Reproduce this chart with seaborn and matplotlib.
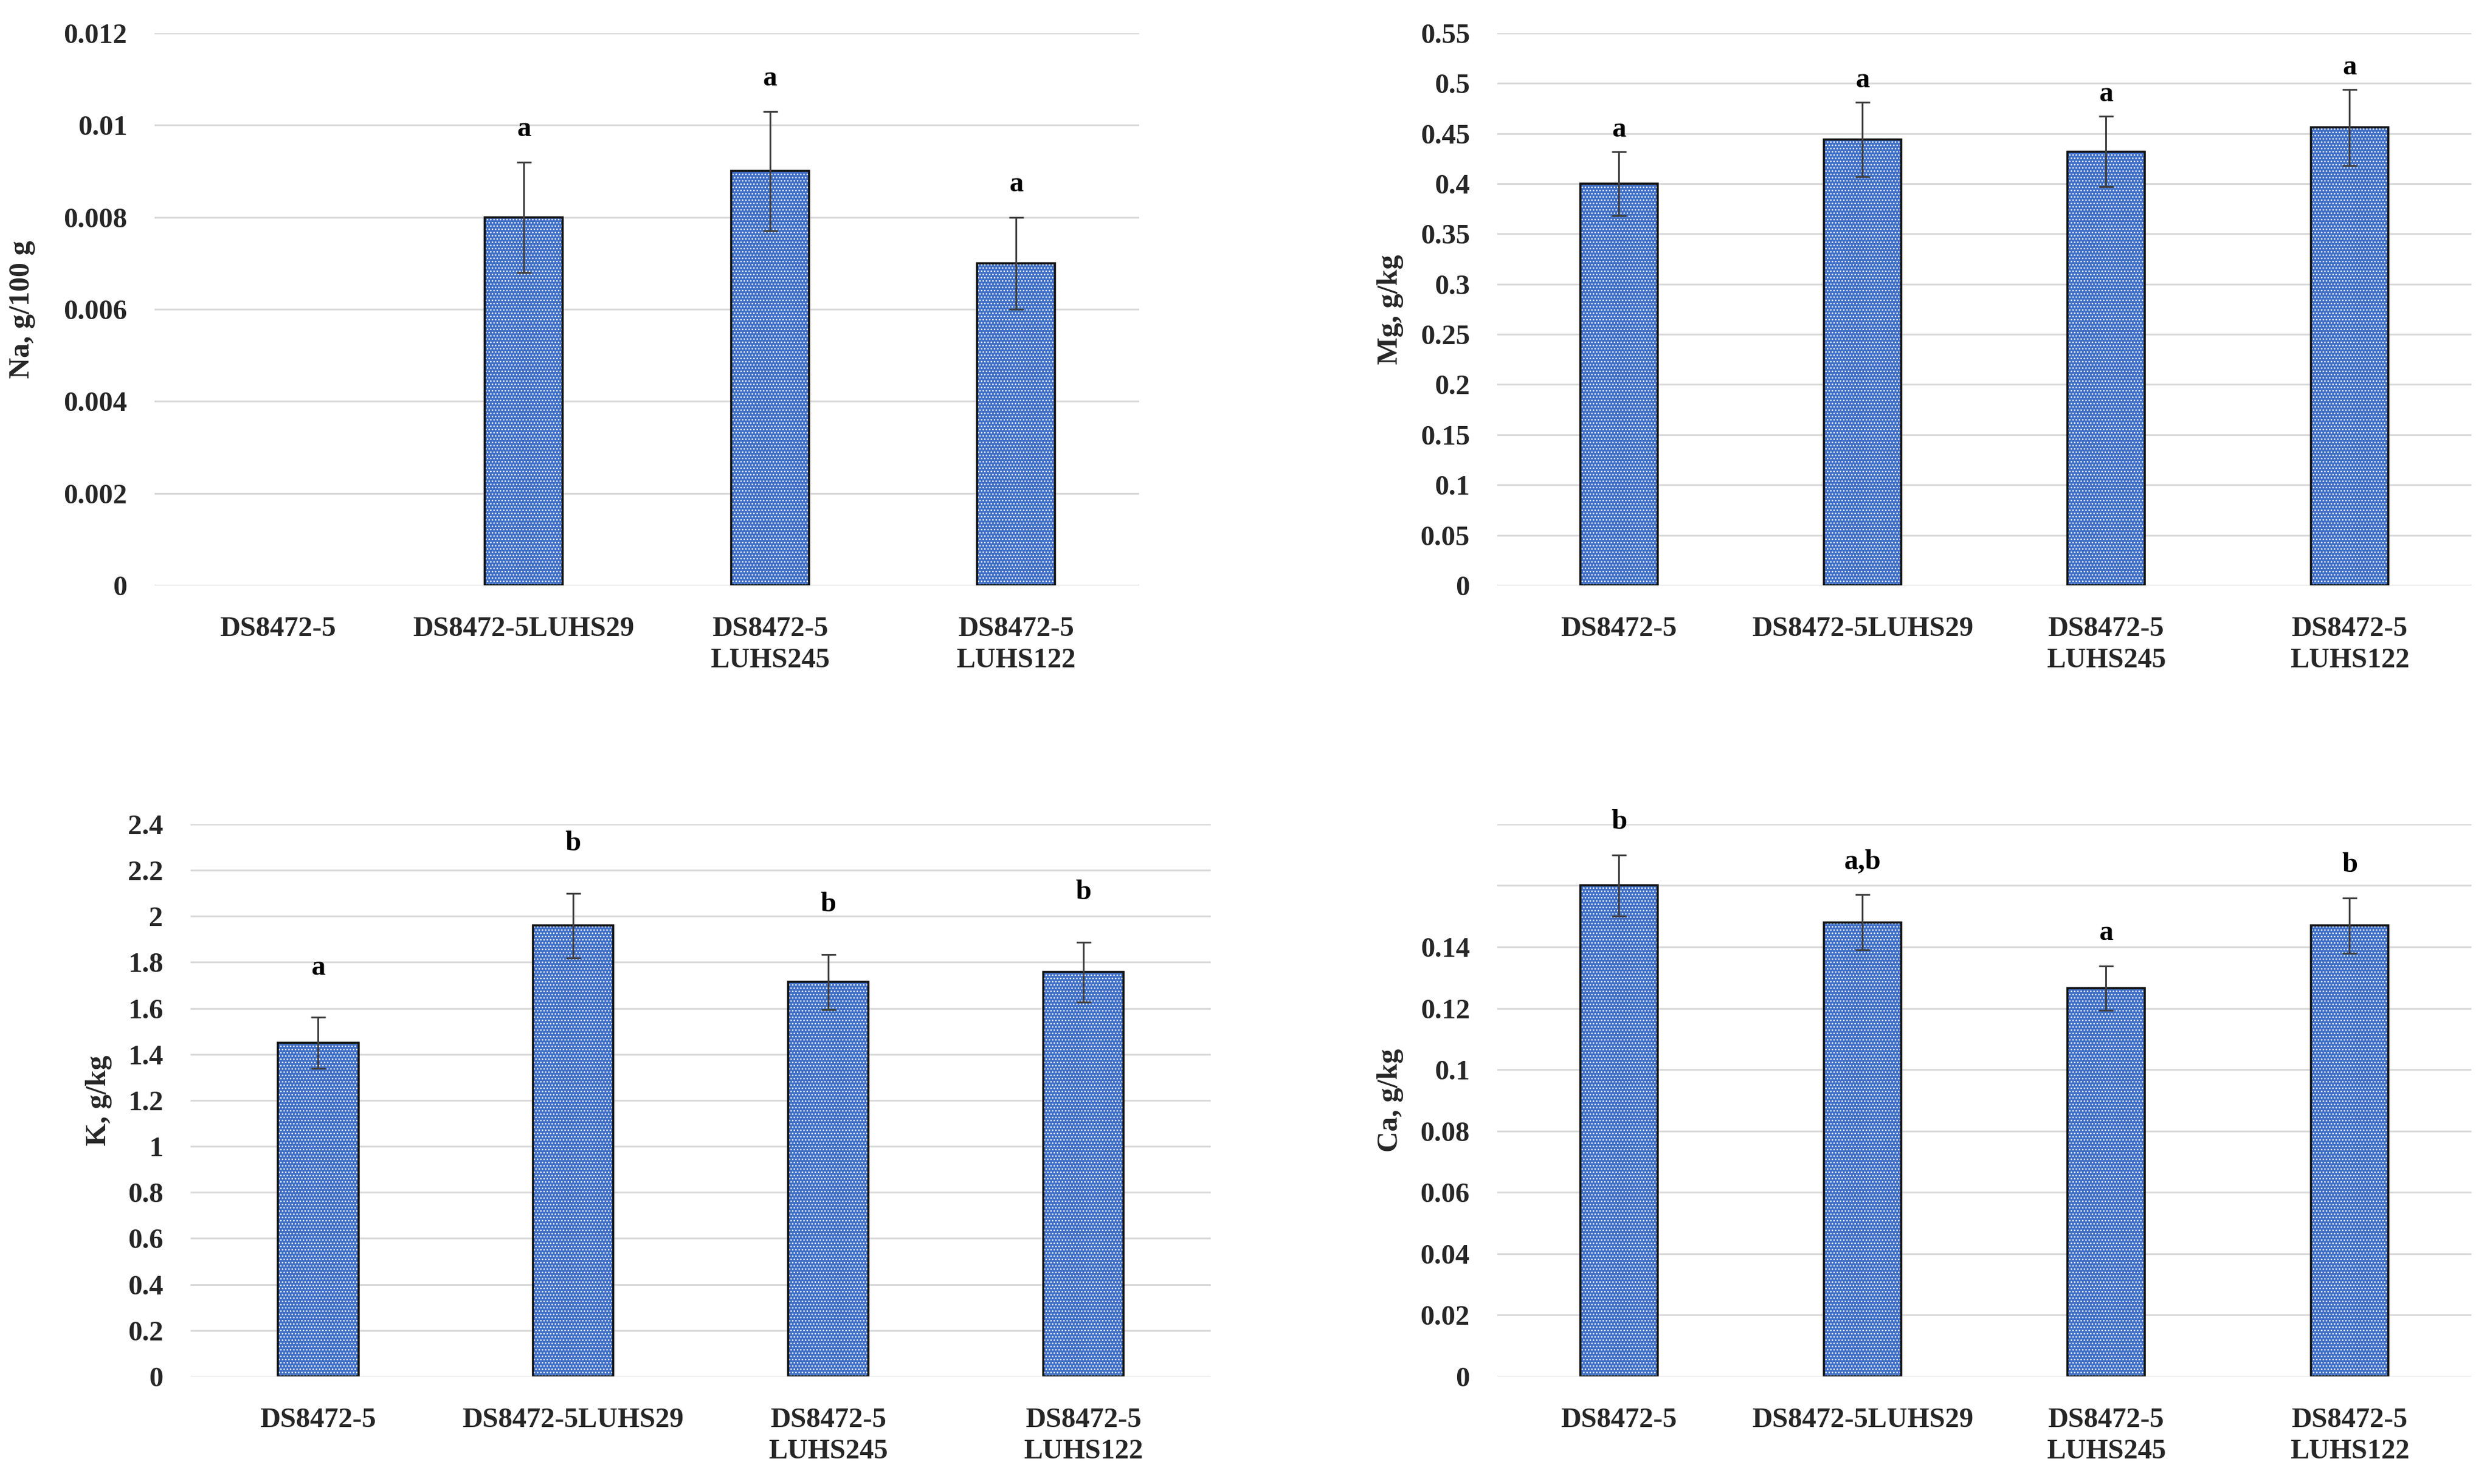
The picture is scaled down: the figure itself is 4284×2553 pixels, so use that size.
import matplotlib
matplotlib.use("Agg")
import matplotlib.pyplot as plt
import seaborn as sns
import numpy as np
import pandas as pd

# ---------------- data ----------------
categories = ["DS8472-5", "DS8472-5LUHS29", "DS8472-5\nLUHS245", "DS8472-5\nLUHS122"]

na_mean = [0.0, 0.008, 0.009, 0.007]
na_err = [0.0, 0.0012, 0.0013, 0.001]
na_letters = ["", "a", "a", "a"]

mg_mean = [0.400, 0.444, 0.432, 0.456]
mg_err = [0.032, 0.037, 0.035, 0.038]
mg_letters = ["a", "a", "a", "a"]

k_mean = [1.45, 1.96, 1.715, 1.757]
k_err = [0.11, 0.14, 0.12, 0.13]
k_letters = ["a", "b", "b", "b"]

ca_mean = [0.160, 0.148, 0.1265, 0.147]
ca_err = [0.010, 0.009, 0.0072, 0.009]
ca_letters = ["b", "a,b", "a", "b"]

na_ticks = [0, 0.002, 0.004, 0.006, 0.008, 0.01, 0.012]
mg_ticks = [0, 0.05, 0.1, 0.15, 0.2, 0.25, 0.3, 0.35, 0.4, 0.45, 0.5, 0.55]
k_ticks = [0, 0.2, 0.4, 0.6, 0.8, 1, 1.2, 1.4, 1.6, 1.8, 2, 2.2, 2.4]
ca_ticks = [0, 0.02, 0.04, 0.06, 0.08, 0.1, 0.12, 0.14, 0.16, 0.18]
ca_tick_labels = ["0", "0.02", "0.04", "0.06", "0.08", "0.1", "0.12", "0.14", "", ""]

# ---------------- style ----------------
sns.set_theme(style="white")
plt.rcParams["font.family"] = ["Liberation Serif", "DejaVu Serif"]
plt.rcParams["font.weight"] = "bold"
plt.rcParams["hatch.linewidth"] = 1.1

BAR_BLUE = "#3f6fc6"
GRID = "#d9d9d9"
ERR = "#404040"
FS = 35

fig = plt.figure(figsize=(42.84, 25.53), dpi=100, facecolor="white")

panels = [
    # (rect, mean, err, letters, ticks, ticklabels, ylabel, label_x, letter_offset_frac)
    ([0.0621, 0.6056, 0.3954, 0.3721], na_mean, na_err, na_letters, na_ticks, None,
     "Na, g/100 g", -0.121, 0.06),
    ([0.6013, 0.6056, 0.3912, 0.3721], mg_mean, mg_err, mg_letters, mg_ticks, None,
     "Mg, g/kg", -0.096, 0.04),
    ([0.0765, 0.0725, 0.4098, 0.3721], k_mean, k_err, k_letters, k_ticks, None,
     "K, g/kg", -0.077, 0.09),
    ([0.6013, 0.0725, 0.3912, 0.3721], ca_mean, ca_err, ca_letters, ca_ticks, ca_tick_labels,
     "Ca, g/kg", -0.096, 0.06),
]

for rect, mean, err, letters, ticks, tlabels, ylabel, lx, loff in panels:
    ax = fig.add_axes(rect)
    df = pd.DataFrame({"cat": categories, "val": mean, "err": err, "letter": letters})
    # hatched fill
    sns.barplot(data=df, x="cat", y="val", order=categories, color=BAR_BLUE,
                width=0.316, errorbar=None, edgecolor="white", linewidth=0,
                saturation=1, ax=ax, zorder=2)
    for p in ax.patches:
        p.set_hatch("...")
    # outline
    sns.barplot(data=df, x="cat", y="val", order=categories, color="#111111",
                width=0.316, errorbar=None, fill=False, linewidth=2.6,
                ax=ax, zorder=3)
    for p in ax.patches:
        if p.get_height() == 0:
            p.set_visible(False)
    # error bars
    m = df[df["val"] > 0]
    ax.errorbar(m["cat"], m["val"], yerr=m["err"], fmt="none", ecolor=ERR,
                elinewidth=2.2, capsize=9, capthick=2.2, zorder=4)
    ymax = ticks[-1]
    ax.set_ylim(0, ymax)
    ax.set_xlim(-0.5, 3.5)
    ax.set_yticks(ticks)
    if tlabels is None:
        tlabels = [f"{t:g}" for t in ticks]
    ax.set_yticklabels(tlabels)
    ax.yaxis.grid(True, color=GRID, linewidth=2.2, zorder=0)
    ax.set_axisbelow(True)
    for s in ax.spines.values():
        s.set_visible(False)
    ax.tick_params(axis="y", length=0, pad=34, labelsize=FS)
    ax.tick_params(axis="x", length=0, pad=38, labelsize=FS)
    for lab in ax.get_xticklabels():
        lab.set_linespacing(1.3)
        lab.set_fontweight("bold")
    for lab in ax.get_yticklabels():
        lab.set_fontweight("bold")
    ax.set_xlabel("")
    ax.set_ylabel(ylabel, fontsize=FS + 1, fontweight="bold")
    ax.yaxis.set_label_coords(lx, 0.5)
    for i, row in df.iterrows():
        if row["letter"]:
            ax.text(i, row["val"] + row["err"] + loff * ymax, row["letter"],
                    ha="center", va="center", fontsize=FS, fontweight="bold",
                    color="black", zorder=5)

fig.savefig("out.png", dpi=100, facecolor="white")
